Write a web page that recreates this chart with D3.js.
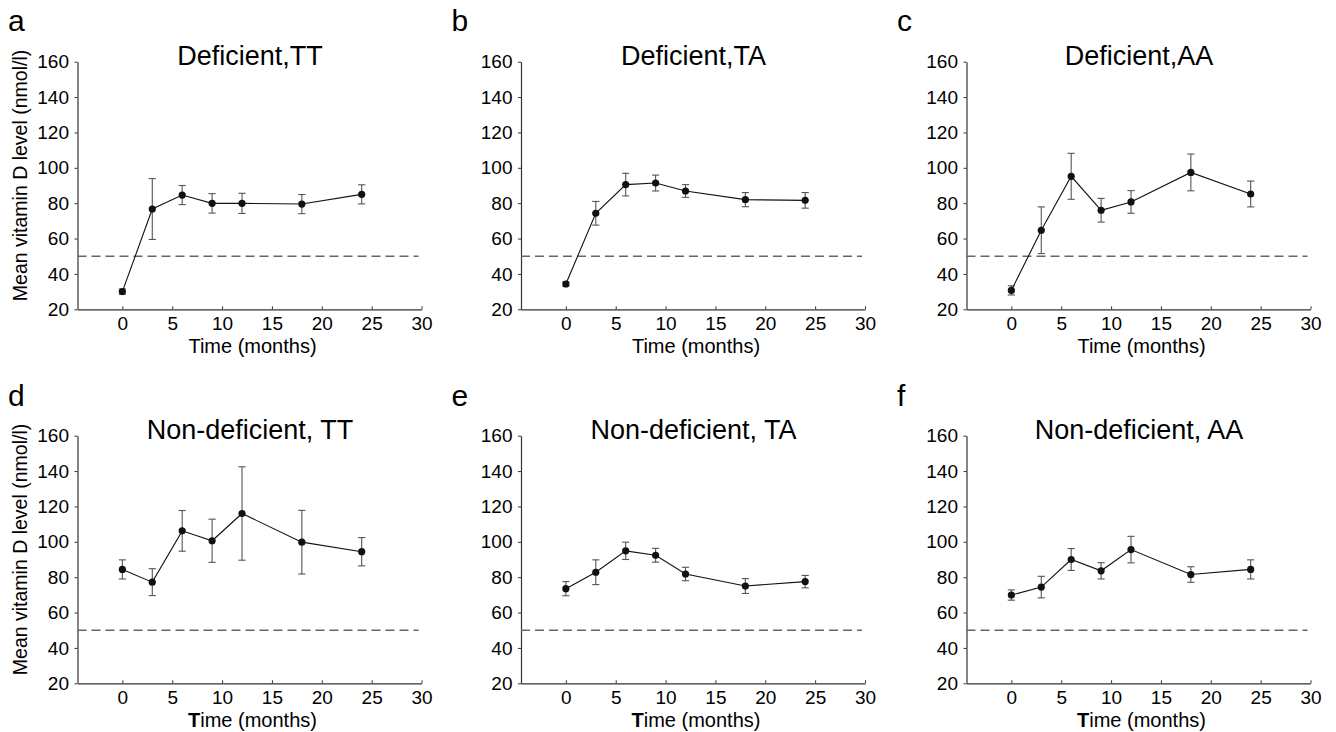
<!DOCTYPE html>
<html>
<head>
<meta charset="utf-8">
<script src="https://cdn.jsdelivr.net/npm/d3@7"></script>
<style>
  html, body { margin: 0; padding: 0; background: #fff; }
  svg { display: block; font-family: "Liberation Sans", Arial, sans-serif; }
</style>
</head>
<body>
<svg id="chart" width="1336" height="732"></svg>
<script>
// ---- data ----
const months = [0, 3, 6, 9, 12, 18, 24];
const xTicks = [0, 5, 10, 15, 20, 25, 30];
const yTicks = [20, 40, 60, 80, 100, 120, 140, 160];
const threshold = 50;

const panelLetters = ["a", "b", "c", "d", "e", "f"];
const panelTitles = ["Deficient,TT", "Deficient,TA", "Deficient,AA",
                     "Non-deficient, TT", "Non-deficient, TA", "Non-deficient, AA"];

const meanDefTT = [30.0, 76.7, 84.6, 79.9, 79.9, 79.5, 85.0];
const errDefTT  = [1.5, 17.2, 5.4, 5.5, 5.7, 5.4, 5.4];
const meanDefTA = [34.3, 74.3, 90.5, 91.4, 86.9, 82.0, 81.6];
const errDefTA  = [1.2, 6.7, 6.4, 4.5, 3.6, 4.0, 4.4];
const meanDefAA = [30.7, 64.7, 95.2, 76.0, 80.7, 97.4, 85.2];
const errDefAA  = [2.6, 13.2, 13.0, 6.7, 6.4, 10.4, 7.3];
const meanNonTT = [84.4, 77.2, 106.2, 100.6, 116.0, 99.8, 94.4];
const errNonTT  = [5.4, 7.6, 11.5, 12.2, 26.4, 18.0, 8.0];
const meanNonTA = [73.5, 82.8, 94.9, 92.4, 81.8, 75.0, 77.5];
const errNonTA  = [4.0, 7.0, 4.9, 3.9, 3.8, 4.2, 3.5];
const meanNonAA = [69.9, 74.4, 90.0, 83.6, 95.6, 81.5, 84.4];
const errNonAA  = [2.9, 6.1, 6.2, 4.6, 7.5, 4.4, 5.4];

const allMeans = [meanDefTT, meanDefTA, meanDefAA, meanNonTT, meanNonTA, meanNonAA];
const allErrs  = [errDefTT, errDefTA, errDefAA, errNonTT, errNonTA, errNonAA];

// ---- layout ----
const colLeft = [77.5, 521, 966.5];
const rowTop = [61.7, 435.7];
const plotW = 344;
const plotH = 247.6;

const svg = d3.select("#chart");

panelTitles.forEach((title, i) => {
  const col = i % 3, row = Math.floor(i / 3);
  const left = colLeft[col], top = rowTop[row];
  const x = d3.scaleLinear().domain([-4.5, 30]).range([0, plotW]);
  const y = d3.scaleLinear().domain([20, 160]).range([plotH, 0]);
  const g = svg.append("g").attr("transform", `translate(${left},${top})`);

  // panel letter
  svg.append("text")
    .attr("x", left - 69.5).attr("y", row === 0 ? 31 : 405.5)
    .attr("font-size", 30).attr("fill", "#000")
    .text(panelLetters[i]);

  // title
  g.append("text")
    .attr("x", x(0) + (x(24) - x(0)) / 2 + 8)
    .attr("y", 3.5)
    .attr("text-anchor", "middle")
    .attr("font-size", 27).attr("fill", "#000")
    .text(title);

  // x axis
  const xa = g.append("g").attr("transform", `translate(0,${plotH})`)
    .call(d3.axisBottom(x).tickValues(xTicks).tickSizeInner(-3).tickSizeOuter(0).tickPadding(7.5));
  // y axis
  const ya = g.append("g")
    .call(d3.axisLeft(y).tickValues(yTicks).tickSizeInner(3).tickSizeOuter(0).tickPadding(5.5));
  [xa, ya].forEach(a => {
    a.select(".domain").attr("stroke", "#333").attr("stroke-width", 1.2);
    a.selectAll(".tick line").attr("stroke", "#333");
    a.selectAll(".tick text").attr("font-size", 19).attr("fill", "#000")
      .attr("font-family", "Liberation Sans, Arial, sans-serif");
  });

  // threshold dashed line
  g.append("line")
    .attr("x1", 0).attr("x2", x(29.7))
    .attr("y1", y(threshold)).attr("y2", y(threshold))
    .attr("stroke", "#666").attr("stroke-width", 1.3)
    .attr("stroke-dasharray", "9,5");

  const means = allMeans[i], errs = allErrs[i];
  const pts = months.map((m, k) => ({ m, v: means[k], e: errs[k] }));

  // error bars
  const eb = g.append("g").attr("stroke", "#555").attr("stroke-width", 1.1);
  pts.forEach(p => {
    eb.append("line").attr("x1", x(p.m)).attr("x2", x(p.m))
      .attr("y1", y(p.v - p.e)).attr("y2", y(p.v + p.e));
    [p.v - p.e, p.v + p.e].forEach(vv => {
      eb.append("line").attr("x1", x(p.m) - 3.6).attr("x2", x(p.m) + 3.6)
        .attr("y1", y(vv)).attr("y2", y(vv));
    });
  });

  // line
  g.append("path").datum(pts)
    .attr("fill", "none").attr("stroke", "#111").attr("stroke-width", 1.1)
    .attr("d", d3.line().x(d => x(d.m)).y(d => y(d.v)));

  // markers
  g.selectAll("circle.pt").data(pts).enter().append("circle")
    .attr("class", "pt")
    .attr("cx", d => x(d.m)).attr("cy", d => y(d.v)).attr("r", 3.6)
    .attr("fill", "#111");

  // x label
  const xl = g.append("text")
    .attr("x", plotW / 2 + 3).attr("y", plotH + 43.5)
    .attr("text-anchor", "middle").attr("font-size", 20).attr("fill", "#000");
  if (row === 1) {
    xl.append("tspan").attr("font-weight", "bold").text("T");
    xl.append("tspan").text("ime (months)");
  } else {
    xl.text("Time (months)");
  }

  // y label (first column only)
  if (col === 0) {
    svg.append("text")
      .attr("transform", `translate(${left - 50.5},${top + plotH / 2 - 10}) rotate(-90)`)
      .attr("text-anchor", "middle").attr("font-size", 19.5).attr("fill", "#000")
      .text("Mean vitamin D level (nmol/l)");
  }
});
</script>
</body>
</html>
